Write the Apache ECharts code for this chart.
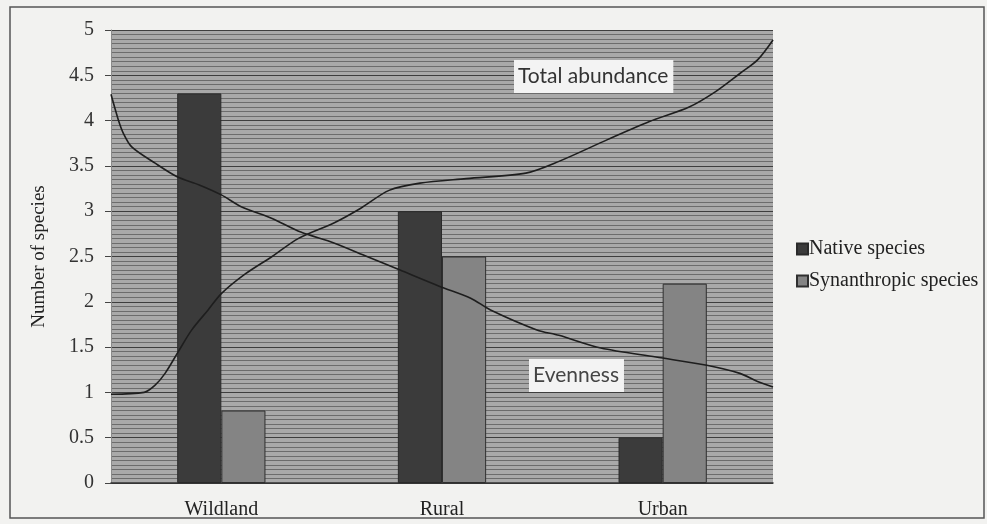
<!DOCTYPE html>
<html>
<head>
<meta charset="utf-8">
<script src="https://cdn.jsdelivr.net/npm/echarts@6/dist/echarts.min.js"></script>
<style>
html,body{margin:0;padding:0;background:#f2f2f0;}
#c{width:987px;height:524px;}
</style>
</head>
<body>
<div id="c"></div>
<script>
// Categories and bar values
var categories = ['Wildland', 'Rural', 'Urban'];
var nativeSpecies = [4.3, 3.0, 0.5];
var synanthropicSpecies = [0.8, 2.5, 2.2];
var yTicks = [0, 0.5, 1, 1.5, 2, 2.5, 3, 3.5, 4, 4.5, 5];

// Curves: x position in category units (0..3 across plot), y value
var totalAbundanceX = [0, 0.15, 0.20, 0.245, 0.305, 0.366, 0.44, 0.50, 0.61, 0.73, 0.85, 1.01, 1.13, 1.26, 1.40, 1.61, 1.88, 2.03, 2.25, 2.44, 2.62, 2.74, 2.85, 2.93, 3.0];
var totalAbundanceY = [0.98, 1.00, 1.08, 1.21, 1.45, 1.69, 1.91, 2.09, 2.31, 2.50, 2.70, 2.87, 3.03, 3.23, 3.31, 3.36, 3.42, 3.55, 3.79, 3.99, 4.15, 4.32, 4.52, 4.67, 4.89];
var evennessX = [0, 0.033, 0.056, 0.094, 0.20, 0.30, 0.40, 0.50, 0.59, 0.73, 0.86, 1.01, 1.16, 1.31, 1.49, 1.63, 1.72, 1.93, 2.03, 2.22, 2.47, 2.70, 2.85, 2.93, 3.0];
var evennessY = [4.29, 4.01, 3.86, 3.71, 3.53, 3.38, 3.29, 3.18, 3.05, 2.92, 2.77, 2.65, 2.50, 2.35, 2.17, 2.04, 1.91, 1.69, 1.63, 1.49, 1.39, 1.30, 1.21, 1.12, 1.06];

function pairs(xs, ys){ return xs.map(function(x,i){ return [x, ys[i]]; }); }

var chart = echarts.init(document.getElementById('c'), null, {renderer:'canvas'});
var serif = '"Liberation Serif", "Times New Roman", serif';
var sans = 'Lato, "Open Sans", sans-serif';

chart.setOption({
  backgroundColor: '#f2f2f0',
  animation: false,
  grid: { left: 111, right: 214, top: 30, bottom: 41, containLabel: false, outerBoundsMode: 'none',
          show: true, backgroundColor: '#a9a9a9', borderWidth: 0 },
  legend: {
    orient: 'vertical', left: 791, top: 234, itemWidth: 11, itemHeight: 11, itemGap: 12,
    data: ['Native species', 'Synanthropic species'],
    textStyle: { fontFamily: serif, fontSize: 20, color: '#222', padding: [0,0,0,-4] },
    icon: 'rect'
  },
  xAxis: [
    { type: 'category', data: categories, gridIndex: 0,
      axisLine: { lineStyle: { color: '#333', width: 1.5 } },
      axisTick: { show: false },
      axisLabel: { fontFamily: serif, fontSize: 20, color: '#222', margin: 17 },
      splitLine: { show: false } },
    { type: 'value', min: 0, max: 3, show: false, gridIndex: 0 }
  ],
  yAxis: {
    type: 'value', min: 0, max: 5, interval: 0.5,
    name: 'Number of species', nameLocation: 'middle', nameGap: 62,
    nameTextStyle: { fontFamily: serif, fontSize: 19, color: '#222' },
    axisLine: { show: true, lineStyle: { color: '#8a8a8a', width: 1 } },
    axisTick: { show: true, length: 6, lineStyle: { color: '#444' } },
    axisLabel: { fontFamily: serif, fontSize: 20, color: '#333', margin: 17 },
    splitLine: { show: true, lineStyle: { color: '#3e3e3e', width: 1.2 } },
    minorTick: { show: false, splitNumber: 10 },
    minorSplitLine: { show: true, lineStyle: { color: '#6c6c6c', width: 1 } }
  },
  series: [
    { name: 'Native species', type: 'bar', data: nativeSpecies, barGap: '0%', barCategoryGap: '60%',
      itemStyle: { color: '#3b3b3b', borderColor: '#2a2a2a', borderWidth: 1 }, z: 3 },
    { name: 'Synanthropic species', type: 'bar', data: synanthropicSpecies,
      itemStyle: { color: '#848484', borderColor: '#2f2f2f', borderWidth: 1 }, z: 3 },
    { name: 'Total abundance', type: 'line', xAxisIndex: 1, data: pairs(totalAbundanceX, totalAbundanceY),
      showSymbol: false, smooth: 0.3, lineStyle: { color: '#1e1e1e', width: 1.6 }, z: 4 },
    { name: 'Evenness', type: 'line', xAxisIndex: 1, data: pairs(evennessX, evennessY),
      showSymbol: false, smooth: 0.3, lineStyle: { color: '#1e1e1e', width: 1.6 }, z: 4 }
  ],
  graphic: [
    { type: 'rect', shape: { x: 10, y: 7, width: 974, height: 511 }, silent: true, z: -1,
      style: { fill: 'none', stroke: '#555', lineWidth: 1.5 } },
    { type: 'text', left: 514, top: 60, z: 10,
      style: { text: 'Total abundance', font: '21px ' + sans, fill: '#333',
               backgroundColor: '#f3f3f3', padding: [6, 5, 6, 4] } },
    { type: 'text', left: 529, top: 359, z: 10,
      style: { text: 'Evenness', font: '21px ' + sans, fill: '#444',
               backgroundColor: '#f3f3f3', padding: [6, 5, 6, 4] } }
  ]
});
</script>
</body>
</html>
